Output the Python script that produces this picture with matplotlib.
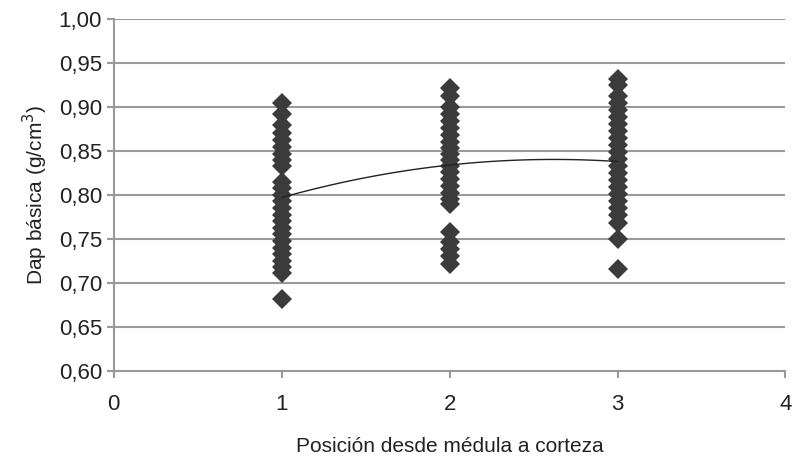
import numpy as np
import matplotlib.pyplot as plt

plt.rcParams['font.family'] = ['Liberation Sans Narrow', 'Liberation Sans', 'DejaVu Sans']

# -----------------------------
# Data
# -----------------------------
pos1 = [0.905, 0.892, 0.880, 0.870, 0.862, 0.855, 0.847, 0.840, 0.833,
        0.815, 0.808, 0.800, 0.793, 0.785, 0.777, 0.770, 0.762, 0.755,
        0.748, 0.740, 0.733, 0.725, 0.718, 0.711, 0.681]
pos2 = [0.922, 0.913, 0.900, 0.892, 0.884, 0.876, 0.868, 0.860, 0.853,
        0.846, 0.840, 0.833, 0.826, 0.818, 0.810, 0.802, 0.795, 0.790,
        0.758, 0.746, 0.738, 0.730, 0.721]
pos3 = [0.932, 0.925, 0.913, 0.905, 0.897, 0.889, 0.881, 0.873, 0.865,
        0.857, 0.849, 0.841, 0.833, 0.825, 0.817, 0.809, 0.801, 0.793,
        0.785, 0.777, 0.768, 0.750, 0.716]
positions = [1, 2, 3]

# polynomial trend line (2nd order) coefficients: a + b*x + c*x^2
trend = [0.727, 0.0865, -0.0165]

yticks = [0.60, 0.65, 0.70, 0.75, 0.80, 0.85, 0.90, 0.95, 1.00]
xticks = [0, 1, 2, 3, 4]

# -----------------------------
# Plot
# -----------------------------
fig = plt.figure(figsize=(7.95, 4.57), dpi=100)
ax = fig.add_axes([0.143, 0.189, 0.845, 0.769])

for p, vals in zip(positions, [pos1, pos2, pos3]):
    ax.plot([p] * len(vals), vals, linestyle='none', marker='D',
            markersize=10.5, color='#3b3b3b', markeredgewidth=0, zorder=3)

xt = np.linspace(1, 3, 100)
yt = trend[0] + trend[1] * xt + trend[2] * xt ** 2
ax.plot(xt, yt, color='#222222', linewidth=1.0, zorder=4)

ax.set_xlim(0, 4)
ax.set_ylim(0.60, 1.00)
ax.set_yticks(yticks)
ax.set_yticklabels([f"{v:.2f}".replace('.', ',') for v in yticks])
ax.set_xticks(xticks)
ax.set_xticklabels([str(v) for v in xticks])

for v in yticks[1:]:
    ax.axhline(v, color='#999999', linewidth=1.5, zorder=1)

for s in ['top', 'right']:
    ax.spines[s].set_visible(False)
for s in ['left', 'bottom']:
    ax.spines[s].set_color('#999999')
    ax.spines[s].set_linewidth(1.5)

ax.tick_params(axis='both', colors='#999999', labelcolor='#222222',
               labelsize=16, length=5, width=1.5, direction='out')
ax.tick_params(axis='x', pad=12)

ax.set_ylabel("Dap básica (g/cm$^3$)", fontsize=15, color='#222222', labelpad=6)
ax.set_xlabel("Posición desde médula a corteza", fontsize=15, color='#222222', labelpad=16)

fig.savefig("out.png", dpi=100)
